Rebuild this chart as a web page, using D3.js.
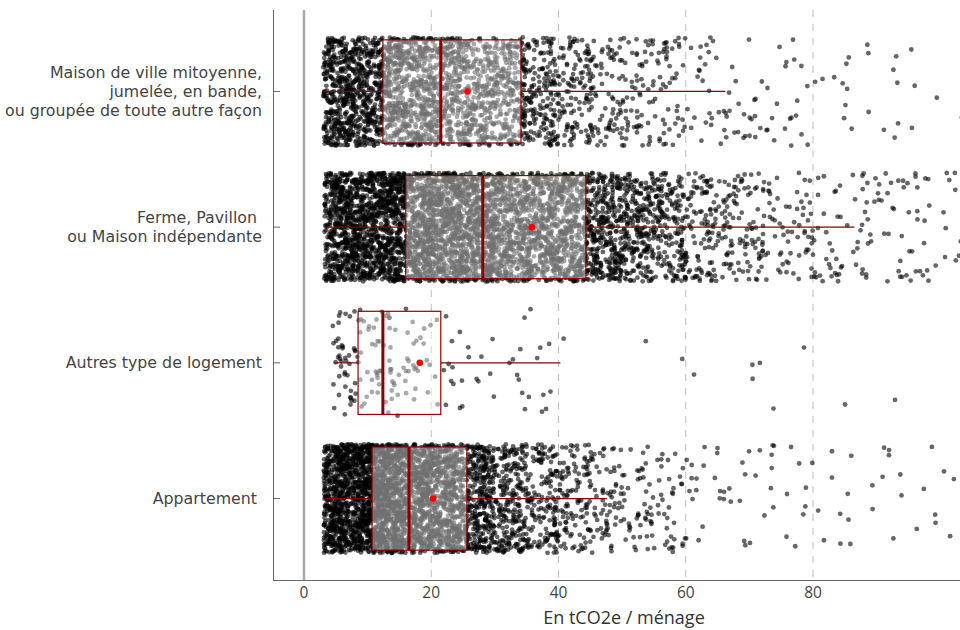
<!DOCTYPE html>
<html>
<head>
<meta charset="utf-8">
<script src="https://cdn.jsdelivr.net/npm/d3@7"></script>
<style>
  body { margin: 0; background: #fff; }
  svg { display: block; font-family: "Open Sans", Lato, sans-serif; }
</style>
</head>
<body>
<svg id="chart" width="960" height="630"></svg>
<script>
const width = 960,
  height = 630;

// categories, top to bottom
const categories = [
  ["Maison de ville mitoyenne,", "jumelée, en bande,", "ou groupée de toute autre façon"],
  ["Ferme, Pavillon ", "ou Maison indépendante"],
  ["Autres type de logement"],
  ["Appartement "]
];

// box statistics (tCO2e / ménage)
const whiskerLow = [3.1, 3.5, 4.7, 3.3];
const q1 = [12.4, 16.0, 8.5, 10.7];
const medians = [21.5, 28.1, 12.4, 16.5];
const q3 = [34.1, 44.3, 21.5, 25.6];
const whiskerHigh = [66.2, 86.5, 40.3, 47.6];
const means = [25.7, 35.8, 18.2, 20.3];

// point counts per 5 tCO2e bin (0-5, 5-10, ... 100-105)
const binWidth = 5;
const minValues = [3.0, 3.2, 4.4, 3.1];
const countsMaison = [160, 390, 380, 370, 300, 270, 250, 160, 110, 78, 62, 48, 22, 18, 16, 14, 5, 8, 6, 4, 3];
const countsFerme = [160, 540, 540, 560, 560, 510, 420, 410, 390, 290, 230, 175, 100, 75, 55, 42, 30, 25, 22, 20, 15];
const countsAutres = [5, 52, 41, 25, 15, 8, 8, 9, 1, 0, 1, 1, 1, 0, 4, 1, 0, 1, 1, 0, 0];
const countsAppart = [230, 680, 840, 650, 550, 360, 230, 160, 110, 70, 48, 36, 15, 12, 10, 9, 6, 6, 7, 5, 3];
const counts = [countsMaison, countsFerme, countsAutres, countsAppart];

const xTicks = [0, 20, 40, 60, 80];

const svg = d3.select("#chart");

// the panel runs a little past the right edge of the picture
const panelLeft = 273, panelRight = 975;
const x = d3.scaleLinear().domain([-4.87, 105.46]).range([panelLeft, panelRight]);
const y = d3.scalePoint().domain(d3.range(categories.length)).range([10, 580]).padding(0.6);
const step = y.step();

// gridlines
svg.append("g")
  .selectAll("line")
  .data(xTicks.filter(d => d !== 0))
  .join("line")
  .attr("x1", d => x(d)).attr("x2", d => x(d))
  .attr("y1", 10).attr("y2", 580)
  .attr("stroke", "#bdbdbd")
  .attr("stroke-width", 1)
  .attr("stroke-dasharray", "7,7");

// zero line
svg.append("line")
  .attr("x1", x(0)).attr("x2", x(0))
  .attr("y1", 10).attr("y2", 580)
  .attr("stroke", "#aaa")
  .attr("stroke-width", 2.5);

// jittered points: values spread inside their bin, vertical jitter (seeded)
const rnd = d3.randomLcg(42);
const points = [];
counts.forEach((arr, ci) => {
  arr.forEach((n, bi) => {
    const lo = Math.max(bi * binWidth, minValues[ci]);
    const hi = (bi + 1) * binWidth;
    for (let k = 0; k < n; k++) {
      points.push({
        value: lo + rnd() * (hi - lo),
        cat: ci,
        jitter: (rnd() - 0.5) * 0.8
      });
    }
  });
});

svg.append("defs").append("clipPath").attr("id", "clip")
  .append("rect").attr("x", panelLeft + 1).attr("y", 0).attr("width", 700).attr("height", 580);

const plot = svg.append("g").attr("clip-path", "url(#clip)");

plot.append("g")
  .selectAll("circle")
  .data(points)
  .join("circle")
  .attr("cx", d => x(d.value))
  .attr("cy", d => y(d.cat) + d.jitter * step)
  .attr("r", 2.4)
  .attr("fill", "#000")
  .attr("fill-opacity", 0.6);

// boxplots
const boxH = step * 0.76;
const boxes = plot.append("g")
  .selectAll("g")
  .data(d3.range(categories.length))
  .join("g");

boxes.append("line")
  .attr("x1", i => x(whiskerLow[i])).attr("x2", i => x(q1[i]))
  .attr("y1", i => y(i)).attr("y2", i => y(i))
  .attr("stroke", "#8b0000").attr("stroke-width", 1.2);

boxes.append("line")
  .attr("x1", i => x(q3[i])).attr("x2", i => x(whiskerHigh[i]))
  .attr("y1", i => y(i)).attr("y2", i => y(i))
  .attr("stroke", "#8b0000").attr("stroke-width", 1.2);

boxes.append("rect")
  .attr("x", i => x(q1[i]))
  .attr("y", i => y(i) - boxH / 2)
  .attr("width", i => x(q3[i]) - x(q1[i]))
  .attr("height", boxH)
  .attr("fill", "#fff")
  .attr("fill-opacity", 0.44)
  .attr("stroke", "#8b0000")
  .attr("stroke-width", 1.2);

boxes.append("line")
  .attr("x1", i => x(medians[i])).attr("x2", i => x(medians[i]))
  .attr("y1", i => y(i) - boxH / 2).attr("y2", i => y(i) + boxH / 2)
  .attr("stroke", "#8b0000").attr("stroke-width", 3);

boxes.append("circle")
  .attr("cx", i => x(means[i]))
  .attr("cy", i => y(i))
  .attr("r", 3.3)
  .attr("fill", "#ff0000");

// axes
svg.append("line")
  .attr("x1", panelLeft + 0.5).attr("x2", panelLeft + 0.5).attr("y1", 10).attr("y2", 580)
  .attr("stroke", "#666");
svg.append("line")
  .attr("x1", panelLeft).attr("x2", panelRight).attr("y1", 580.5).attr("y2", 580.5)
  .attr("stroke", "#666");

svg.append("g")
  .selectAll("line")
  .data(d3.range(categories.length))
  .join("line")
  .attr("x1", panelLeft).attr("x2", panelLeft + 7)
  .attr("y1", i => y(i)).attr("y2", i => y(i))
  .attr("stroke", "#666");

svg.append("g")
  .selectAll("text")
  .data(xTicks)
  .join("text")
  .attr("x", d => x(d))
  .attr("y", 598)
  .attr("text-anchor", "middle")
  .attr("font-size", 15.5)
  .attr("fill", "#444")
  .text(d => d);

svg.append("text")
  .attr("x", (panelLeft + panelRight) / 2)
  .attr("y", 624)
  .attr("text-anchor", "middle")
  .attr("font-size", 18)
  .attr("fill", "#333")
  .text("En tCO2e / ménage");

// category labels
const lineH = 19;
const labels = svg.append("g")
  .selectAll("text")
  .data(categories)
  .join("text")
  .attr("text-anchor", "end")
  .attr("font-family", "'DejaVu Sans', sans-serif")
  .attr("font-size", 15.8)
  .attr("fill", "#444")
  .attr("xml:space", "preserve")
  .style("white-space", "pre");

labels.selectAll("tspan")
  .data((d, i) => d.map((t, j) => ({ t, j, n: d.length, i })))
  .join("tspan")
  .attr("x", 262)
  .attr("y", d => y(d.i) + (d.j - (d.n - 1) / 2) * lineH + 5.5)
  .text(d => d.t);
</script>
</body>
</html>
